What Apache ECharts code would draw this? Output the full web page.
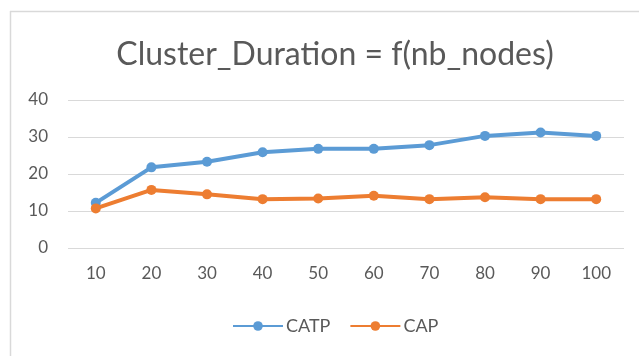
<!DOCTYPE html>
<html>
<head>
<meta charset="utf-8">
<script src="https://cdn.jsdelivr.net/npm/echarts@6/dist/echarts.min.js"></script>
<style>
html,body{margin:0;padding:0;background:#fff;}
#chart{width:639px;height:356px;}
</style>
</head>
<body>
<div id="chart"></div>
<script>
// Number of nodes per cluster run
const nbNodes = ['10', '20', '30', '40', '50', '60', '70', '80', '90', '100'];
// Cluster duration per algorithm
const catp = [12.2, 21.8, 23.3, 25.9, 26.8, 26.8, 27.8, 30.3, 31.2, 30.3];
const cap = [10.7, 15.7, 14.5, 13.2, 13.4, 14.1, 13.2, 13.7, 13.2, 13.2];
const yTicks = [0, 10, 20, 30, 40];

const textColor = '#595959';
const font = 'Lato, "Open Sans", sans-serif';

const chart = echarts.init(document.getElementById('chart'));
const lineSeries = (name, data, color) => ({
  name: name,
  type: 'line',
  data: data,
  symbol: 'circle',
  symbolSize: 10,
  lineStyle: { width: 4, color: color },
  itemStyle: { color: color },
  z: name === 'CAP' ? 3 : 2
});

chart.setOption({
  animation: false,
  backgroundColor: '#fff',
  title: {
    text: 'Cluster_Duration = f(nb_nodes)',
    left: 330,
    textAlign: 'center',
    top: 34,
    textStyle: { color: textColor, fontFamily: font, fontSize: 32, fontWeight: 'normal' }
  },
  legend: {
    top: 312,
    left: 227,
    itemWidth: 50,
    itemHeight: 12,
    itemGap: 19,
    textStyle: { color: textColor, fontFamily: font, fontSize: 18, padding: [0, 0, 0, -2] },
    data: ['CATP', 'CAP']
  },
  grid: { left: 68, right: 15, top: 100, bottom: 108, containLabel: false },
  xAxis: {
    type: 'category',
    data: nbNodes,
    boundaryGap: true,
    axisLine: { show: false },
    axisTick: { show: false },
    axisLabel: { color: textColor, fontFamily: font, fontSize: 17, margin: 17 }
  },
  yAxis: {
    type: 'value',
    min: yTicks[0],
    max: yTicks[yTicks.length - 1],
    interval: 10,
    axisLine: { show: false },
    axisTick: { show: false },
    splitLine: { lineStyle: { color: '#D9D9D9', width: 1 } },
    axisLabel: { color: textColor, fontFamily: font, fontSize: 17, margin: 20 }
  },
  graphic: [
    { type: 'line', shape: { x1: 10.5, y1: 11, x2: 10.5, y2: 356 }, style: { stroke: '#D9D9D9', lineWidth: 1.5 } },
    { type: 'line', shape: { x1: 10, y1: 11.5, x2: 639, y2: 11.5 }, style: { stroke: '#D9D9D9', lineWidth: 1.5 } }
  ],
  series: [
    lineSeries('CATP', catp, '#5B9BD5'),
    lineSeries('CAP', cap, '#ED7D31')
  ]
});
</script>
</body>
</html>
